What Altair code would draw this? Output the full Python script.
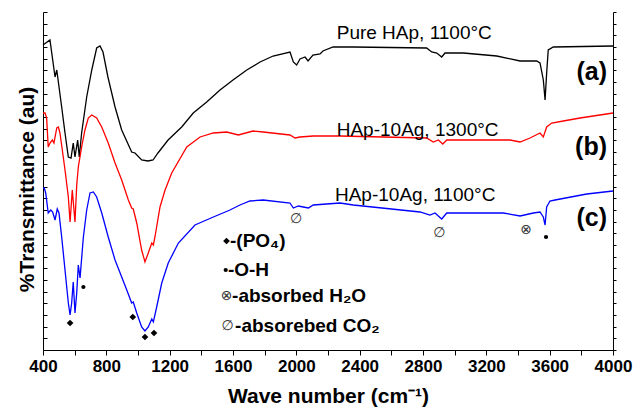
import altair as alt
import pandas as pd

# ---- spectra (wave number, transmittance in arbitrary units) ----
wn_a = [400, 444, 476, 487, 497, 518, 539, 560, 577, 591, 602, 619, 629, 644, 676, 708, 739, 760, 779,
        810, 855, 897, 960, 981, 1023, 1063, 1095, 1126, 1190, 1276, 1349, 1434, 1518, 1600, 1687,
        1771, 1853, 1960, 1981, 2002, 2023, 2055, 2074, 2105, 2150, 2168, 2232, 2360, 2823, 2855,
        2887, 2918, 2939, 3055, 3266, 3413, 3518, 3539, 3560, 3571, 3581, 3591, 3623, 4000]
t_a = [305, 310, 273, 280, 268, 243, 217, 193, 192, 207, 193, 210, 193, 217, 253, 280, 302, 304, 298,
       273, 243, 220, 198, 197, 190, 189, 190, 197, 210, 223, 237, 248, 260, 270, 280,
       288, 294, 298, 288, 285, 291, 293, 289, 295, 296, 299, 303, 303, 302, 298,
       297, 293, 297, 297, 294, 289, 289, 287, 270, 250, 277, 300, 303, 304]

wn_b = [400, 413, 423, 433, 444, 459, 469, 487, 497, 507, 522, 539, 560, 571, 585, 602, 613, 623, 644,
        665, 686, 708, 739, 771, 812, 855, 897, 939, 960, 970, 992, 1023, 1044, 1065, 1087, 1097,
        1107, 1139, 1171, 1213, 1308, 1392, 1476, 1560, 1634, 1726, 1791, 1960, 1992, 2023, 2107,
        2276, 2823, 2865, 2897, 2925, 2950, 3350, 3413, 3476, 3539, 3560, 3581, 3613, 3686, 3792, 4000]
t_b = [237, 237, 232, 203, 207, 210, 207, 222, 223, 217, 200, 180, 153, 128, 160, 128, 165, 183, 203,
       220, 232, 235, 232, 223, 207, 187, 170, 150, 142, 141, 127, 100, 88, 97, 107, 105,
       113, 143, 160, 177, 203, 213, 217, 218, 215, 219, 218, 215, 212, 213, 214,
       214, 212, 208, 210, 206, 210, 210, 208, 212, 217, 213, 223, 227, 229, 232, 237]

wn_c = [400, 408, 417, 433, 449, 461, 476, 490, 501, 518, 539, 560, 571, 581, 591, 602, 613, 623, 634,
        655, 676, 697, 718, 739, 771, 812, 855, 897, 929, 960, 970, 992, 1023, 1044, 1065, 1087,
        1097, 1118, 1150, 1191, 1255, 1360, 1476, 1581, 1644, 1707, 1791, 1960, 1981, 2013, 2044,
        2076, 2107, 2276, 2360, 2781, 2844, 2876, 2918, 2950, 2991, 3307, 3413, 3497, 3539, 3560,
        3571, 3581, 3602, 3634, 3834, 4000]
t_c = [162, 162, 157, 137, 140, 138, 130, 141, 137, 113, 80, 47, 35, 47, 68, 37, 57, 85, 72,
       113, 140, 157, 158, 153, 137, 113, 90, 73, 60, 47, 48, 37, 23, 19, 23, 31,
       28, 43, 67, 87, 107, 125, 133, 140, 145, 149, 150, 147, 142, 144, 143,
       142, 145, 147, 145, 138, 135, 137, 131, 137, 137, 137, 134, 137, 138, 133,
       125, 143, 149, 150, 156, 159]

series_keys = ["a", "b", "c"]
series_colors = ["#000000", "#ff0000", "#0000ff"]

# ---- annotations ----
diamond_wn = [571, 967, 1044, 1101, 1559]
diamond_t = [27, 33, 13, 17, 109]
dot_wn = [655, 3577, 1554]
dot_t = [63, 113, 80]
sym_text = ["∅", "∅", "⊗", "⊗", "∅"]
sym_wn = [1998, 2903, 3451, 1560, 1566]
sym_t = [131, 117, 120, 54, 24]

sample_labels = ["Pure HAp, 1100°C", "HAp-10Ag, 1300°C", "HAp-10Ag, 1100°C"]
sample_wn = [2255, 2255, 2244]
sample_t = [317, 220, 155]

tag_labels = ["(a)", "(b)", "(c)"]
tag_wn = [3962, 3962, 3962]
tag_t = [278, 203, 132]

legend_labels = ["-(PO₄)", "-O-H", "-absorbed H₂O", "-absorebed CO₂"]
legend_wn = [1581, 1568, 1594, 1613]
legend_t = [109, 80, 54, 24]

x_tick_values = list(range(400, 4001, 200))
x_tick_labels = [400, 800, 1200, 1600, 2000, 2400, 2800, 3200, 3600, 4000]
y_ticks = [round(i * 338 / 29, 3) for i in range(30)]

FONT = "Liberation Sans"

rows = []
for key, wns, ts in zip(series_keys, [wn_a, wn_b, wn_c], [t_a, t_b, t_c]):
    for w, t in zip(wns, ts):
        rows.append({"wn": w, "y": t, "s": key})
spec_df = pd.DataFrame(rows)

xscale = alt.Scale(domain=[400, 4000], nice=False, zero=False)
yscale = alt.Scale(domain=[0, 338], nice=False, zero=False)

label_test = " || ".join(f"datum.value == {v}" for v in x_tick_labels)
xaxis = alt.Axis(
    values=x_tick_values,
    labelExpr=f"({label_test}) ? format(datum.value, 'd') : ''",
    grid=False, domainColor="black", domainWidth=1, tickColor="black", tickSize=5,
    labelFont=FONT, labelFontSize=17, labelFontWeight="bold", labelColor="black",
    labelPadding=3, labelFlush=False, labelOverlap=False,
    title="Wave number (cm⁻¹)", titleFont=FONT, titleFontSize=21, titleFontWeight="bold",
    titleColor="black", titleY=46, titleBaseline="middle",
)
x_enc = alt.X("wn:Q", scale=xscale, axis=xaxis)

yaxis_left = alt.Axis(
    orient="left", values=y_ticks, labels=False, grid=False,
    domainColor="black", domainWidth=1, tickColor="black",
    tickSize=alt.ExprRef(expr="-4"),
    title="%Transmittance (au)", titleFont=FONT, titleFontSize=21, titleFontWeight="bold",
    titleColor="black", titleX=-16, titleY=177, titleBaseline="middle", titleAngle=270,
)
yaxis_right = alt.Axis(
    orient="right", values=y_ticks, labels=False, grid=False, title=None,
    domainColor="black", domainWidth=1, tickColor="black", tickSize=3,
)

lines = alt.Chart(spec_df).mark_line(strokeWidth=1.3).encode(
    x=x_enc,
    y=alt.Y("y:Q", scale=yscale, axis=yaxis_left),
    color=alt.Color("s:N", scale=alt.Scale(domain=series_keys, range=series_colors), legend=None),
)

diam_df = pd.DataFrame({"wn": diamond_wn, "y": diamond_t})
diamonds = alt.Chart(diam_df).mark_point(shape="diamond", filled=True, color="black", size=45, opacity=1).encode(
    x=x_enc, y=alt.Y("y:Q", scale=yscale, axis=yaxis_right)
)

dot_df = pd.DataFrame({"wn": dot_wn, "y": dot_t})
dots = alt.Chart(dot_df).mark_circle(color="black", size=18, opacity=1).encode(
    x=x_enc, y=alt.Y("y:Q", scale=yscale, axis=None)
)

sym_df = pd.DataFrame({"wn": sym_wn, "y": sym_t, "t": sym_text})
syms = alt.Chart(sym_df).mark_text(font="DejaVu Sans", fontSize=14, color="#333333", baseline="middle", align="center").encode(
    x=x_enc, y=alt.Y("y:Q", scale=yscale, axis=None), text="t:N"
)

samp_df = pd.DataFrame({"wn": sample_wn, "y": sample_t, "t": sample_labels})
samples = alt.Chart(samp_df).mark_text(font=FONT, fontSize=19, color="black", baseline="middle", align="left").encode(
    x=x_enc, y=alt.Y("y:Q", scale=yscale, axis=None), text="t:N"
)

tag_df = pd.DataFrame({"wn": tag_wn, "y": tag_t, "t": tag_labels})
tags = alt.Chart(tag_df).mark_text(font=FONT, fontSize=25, fontWeight="bold", color="black", baseline="middle", align="right").encode(
    x=x_enc, y=alt.Y("y:Q", scale=yscale, axis=None), text="t:N"
)

leg_df = pd.DataFrame({"wn": legend_wn, "y": legend_t, "t": legend_labels})
legend_txt = alt.Chart(leg_df).mark_text(font=FONT, fontSize=19, fontWeight="bold", color="black", baseline="middle", align="left").encode(
    x=x_enc, y=alt.Y("y:Q", scale=yscale, axis=None), text="t:N"
)

chart = alt.layer(lines, diamonds, dots, syms, samples, tags, legend_txt).resolve_axis(
    y="independent"
).properties(
    width=570, height=338,
    autosize=alt.AutoSizeParams(type="none"),
    padding={"left": 43, "top": 12, "right": 30, "bottom": 62},
    background="white",
).configure_view(stroke=None)

chart.save("out.html", embed_options={"renderer": "svg", "actions": False})
